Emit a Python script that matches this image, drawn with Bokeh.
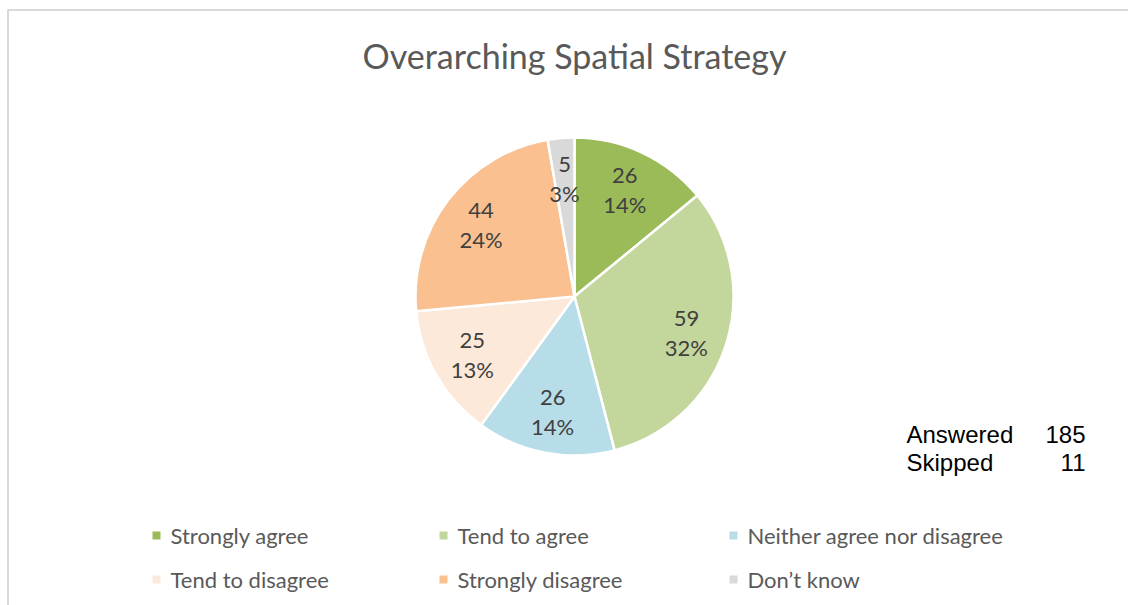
import math
from bokeh.plotting import figure
from bokeh.models import Range1d, ColumnDataSource
from bokeh.core.properties import value
from bokeh.embed import file_html
from bokeh.resources import INLINE

# ---- data ----
title = "Overarching Spatial Strategy"
categories = ["Strongly agree", "Tend to agree", "Neither agree nor disagree",
              "Tend to disagree", "Strongly disagree", "Don\u2019t know"]
counts = [26, 59, 26, 25, 44, 5]
percent_labels = ["14%", "32%", "14%", "13%", "24%", "3%"]
colors = ["#9BBB59", "#C3D69B", "#B7DDE8", "#FDE9D9", "#FAC090", "#D9D9D9"]
summary_labels = ["Answered", "Skipped"]
summary_values = [185, 11]

W, H = 1128, 605
def X(px): return px
def Y(py): return H - py

p = figure(width=W, height=H, output_backend="svg", toolbar_location=None,
           x_range=Range1d(0, W), y_range=Range1d(0, H), min_border=0)
p.axis.visible = False
p.grid.visible = False
p.outline_line_color = None
p.background_fill_color = "white"
p.border_fill_color = "white"

# border (top and left)
p.line([X(7.5), X(7.5), W], [0, Y(9.5), Y(9.5)], line_color="#D9D9D9", line_width=2)

# pie
cx, cy, R = X(574), Y(296), 159
total = sum(counts)
starts, ends, lx, ly = [], [], [], []
cum = 0
for c in counts:
    a0 = math.pi / 2 - 2 * math.pi * cum / total
    a1 = math.pi / 2 - 2 * math.pi * (cum + c) / total
    starts.append(a0)
    ends.append(a1)
    mid = (a0 + a1) / 2
    lx.append(cx + 0.74 * R * math.cos(mid))
    ly.append(cy + 0.74 * R * math.sin(mid))
    cum += c

src = ColumnDataSource(dict(start=starts, end=ends, color=colors,
                            lx=lx, ly=ly,
                            cnt=[str(c) for c in counts], pct=percent_labels,
                            ly1=[y + 14.5 for y in ly], ly2=[y - 14.5 for y in ly]))
p.wedge(x=cx, y=cy, radius=R, start_angle="start", end_angle="end",
        direction="clock", fill_color="color", line_color="white",
        line_width=2.5, source=src)

p.text(x="lx", y="ly1", text="cnt", source=src, text_align="center",
       text_baseline="middle", text_font=value("Lato"), text_font_size="22px",
       text_color="#404040")
p.text(x="lx", y="ly2", text="pct", source=src, text_align="center",
       text_baseline="middle", text_font=value("Lato"), text_font_size="22px",
       text_color="#404040")

# title
p.text(x=[X(574)], y=[Y(55)], text=[title], text_align="center",
       text_baseline="middle", text_font=value("Lato"), text_font_size="34px",
       text_color="#595959")

# summary
p.text(x=[X(906)] * 2, y=[Y(434), Y(462)], text=summary_labels,
       text_align="left", text_baseline="middle",
       text_font=value("Liberation Sans"), text_font_size="24px", text_color="#000000")
p.text(x=[X(1085)] * 2, y=[Y(434), Y(462)], text=[str(v) for v in summary_values],
       text_align="right", text_baseline="middle",
       text_font=value("Liberation Sans"), text_font_size="24px", text_color="#000000")

# legend
col_sq = [156, 443, 733]
row_y = [535, 579]
sqx, sqy, txx, tyy = [], [], [], []
for i, cat in enumerate(categories):
    r, c = divmod(i, 3)
    sqx.append(X(col_sq[c]))
    sqy.append(Y(row_y[r]))
    txx.append(X(col_sq[c] + 14))
    tyy.append(Y(row_y[r]))
lsrc = ColumnDataSource(dict(sx=sqx, sy=sqy, tx=txx, ty=tyy, color=colors, cat=categories))
p.rect(x="sx", y="sy", width=8, height=8, fill_color="color", line_color=None, source=lsrc)
p.text(x="tx", y="ty", text="cat", source=lsrc, text_align="left",
       text_baseline="middle", text_font=value("Lato"), text_font_size="22px",
       text_color="#595959")

open("out.html", "w").write(file_html(p, INLINE))
